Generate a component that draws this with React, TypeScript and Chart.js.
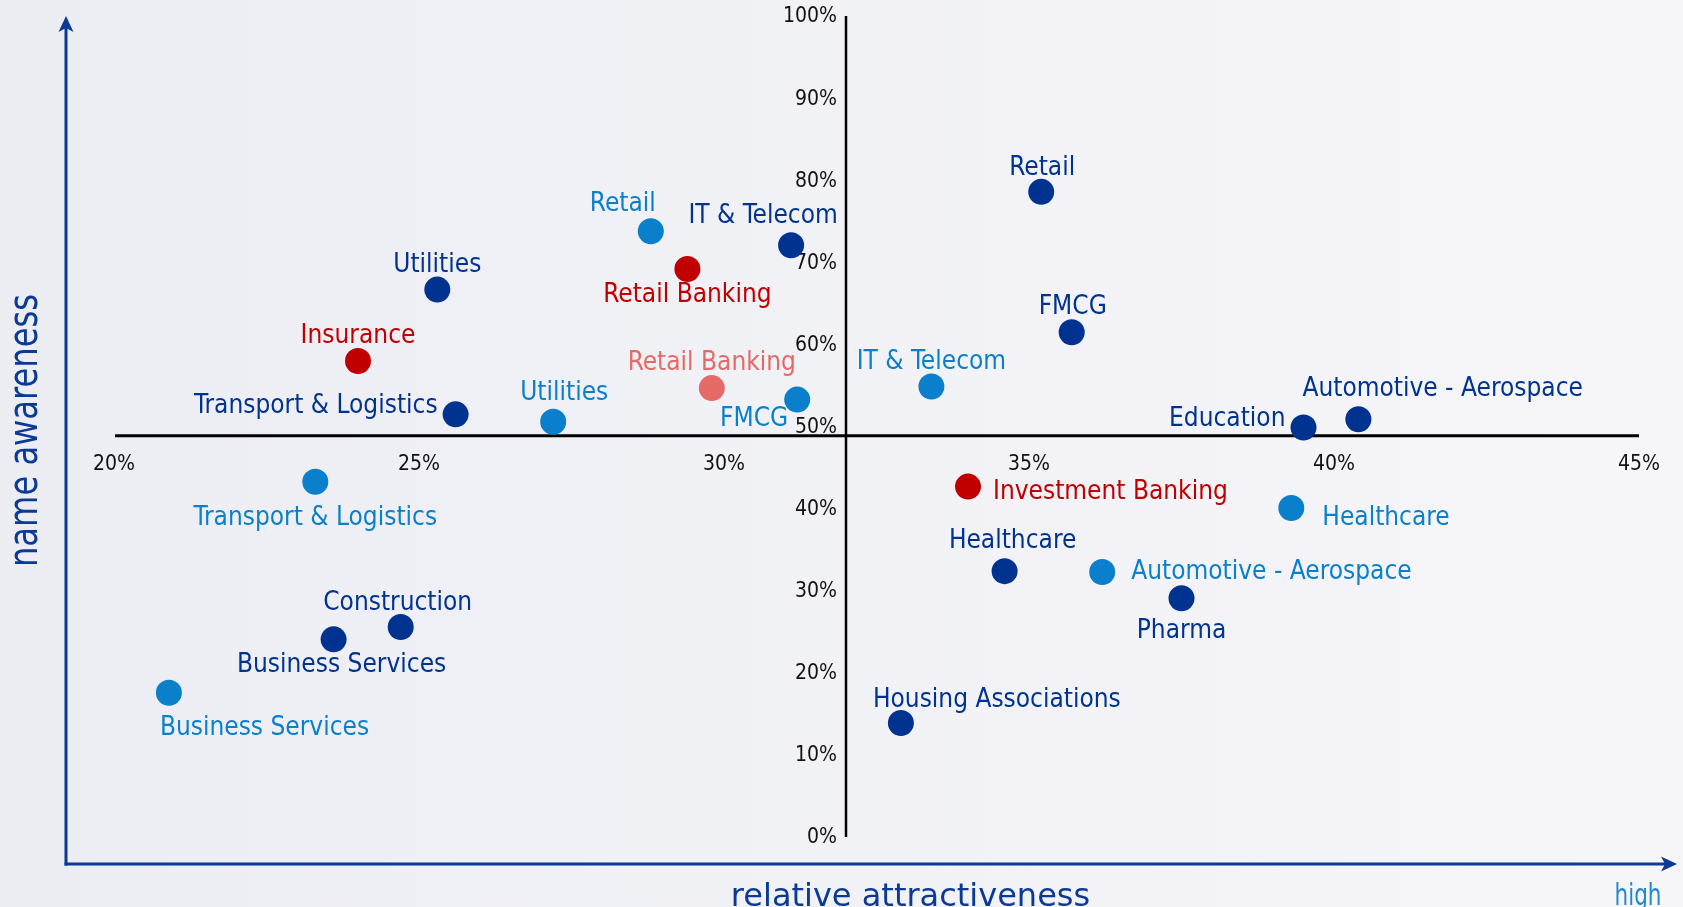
import React, { useEffect, useRef } from "react";
import { Chart, registerables } from "chart.js";

Chart.register(...registerables);

// ---------- data ----------
const X_TICKS = [20, 25, 30, 35, 40, 45];
const Y_TICKS = [0, 10, 20, 30, 40, 50, 60, 70, 80, 90, 100];
const X_CROSS = 32; // where the vertical axis crosses (relative attractiveness %)
const Y_CROSS = 49; // where the horizontal axis crosses (name awareness %)

const LIGHT_NAMES = ["Retail", "FMCG", "IT & Telecom", "Utilities", "Transport & Logistics", "Business Services", "Healthcare", "Automotive - Aerospace"];
const LIGHT_X = [28.8, 31.2, 33.4, 27.2, 23.3, 20.9, 39.3, 36.2];
const LIGHT_Y = [73.9, 53.4, 55.0, 50.7, 43.4, 17.7, 40.2, 32.4];

const DARK_NAMES = ["Retail", "IT & Telecom", "Utilities", "FMCG", "Transport & Logistics", "Education", "Automotive - Aerospace", "Construction", "Business Services", "Healthcare", "Pharma", "Housing Associations"];
const DARK_X = [35.2, 31.1, 25.3, 35.7, 25.6, 39.5, 40.4, 24.7, 23.6, 34.6, 37.5, 32.9];
const DARK_Y = [78.7, 72.2, 66.8, 61.6, 51.6, 50.0, 51.0, 25.7, 24.2, 32.5, 29.2, 14.0];

const RED_NAMES = ["Retail Banking", "Insurance", "Investment Banking"];
const RED_X = [29.4, 24.0, 34.0];
const RED_Y = [69.3, 58.1, 42.8];

const SALMON_NAMES = ["Retail Banking"];
const SALMON_X = [29.8];
const SALMON_Y = [54.8];

// ---------- label placement (align, dx, baseline dy) ----------
type Place = [CanvasTextAlign, number, number];
const LIGHT_PLACE: Place[] = [
  ["center", -28, -20], ["right", -9, 26], ["center", 0, -17], ["center", 11, -22],
  ["center", 0, 43], ["left", -9, 42], ["left", 31, 17], ["left", 29, 7],
];
const DARK_PLACE: Place[] = [
  ["center", 1, -17], ["center", -28, -22], ["center", 0, -18], ["center", 1, -18],
  ["right", -18, -1], ["right", -18, -2], ["left", -56, -23], ["center", -3, -17],
  ["center", 8, 33], ["center", 8, -23], ["center", 0, 40], ["left", -28, -16],
];
const RED_PLACE: Place[] = [["center", 0, 33], ["center", 0, -18], ["left", 25, 12]];
const SALMON_PLACE: Place[] = [["center", 0, -18]];

// ---------- styles ----------
const DARK = "#00338f";
const LIGHT = "#0a7fcb";
const RED = "#c00000";
const SALMON = "#e46a68";
const ARROW = "#0b3a96";
const LABEL_FONT = "26px 'DejaVu Sans Condensed', 'DejaVu Sans', sans-serif";
const TICK_FONT = "21px 'DejaVu Sans Condensed', 'DejaVu Sans', sans-serif";

const toPoints = (xs: number[], ys: number[]) => xs.map((x, i) => ({ x, y: ys[i] }));

const bgPlugin = {
  id: "bg",
  beforeDraw(chart: any) {
    const { ctx, width, height } = chart;
    const g = ctx.createLinearGradient(0, 0, width, 0);
    g.addColorStop(0, "#ecedf3");
    g.addColorStop(1, "#f6f6f9");
    ctx.save();
    ctx.fillStyle = g;
    ctx.fillRect(0, 0, width, height);
    ctx.restore();
  },
};

function arrowHead(ctx: CanvasRenderingContext2D, tipX: number, tipY: number, dir: "up" | "right") {
  ctx.beginPath();
  if (dir === "up") {
    ctx.moveTo(tipX, tipY);
    ctx.lineTo(tipX + 7.5, tipY + 16);
    ctx.lineTo(tipX, tipY + 12);
    ctx.lineTo(tipX - 7.5, tipY + 16);
  } else {
    ctx.moveTo(tipX, tipY);
    ctx.lineTo(tipX - 16, tipY - 7.5);
    ctx.lineTo(tipX - 12, tipY);
    ctx.lineTo(tipX - 16, tipY + 7.5);
  }
  ctx.closePath();
  ctx.fill();
}

const axesPlugin = {
  id: "crossAxes",
  beforeDatasetsDraw(chart: any) {
    const { ctx, scales, chartArea, width, height } = chart;
    const xs = scales.x;
    const ys = scales.y;
    const hy = ys.getPixelForValue(Y_CROSS);
    const vx = xs.getPixelForValue(X_CROSS);
    ctx.save();
    // outer arrows
    const ax = chartArea.left - 48;
    const ay = chartArea.bottom + 26;
    ctx.strokeStyle = ARROW;
    ctx.fillStyle = ARROW;
    ctx.lineWidth = 3;
    ctx.beginPath();
    ctx.moveTo(ax, ay + 1.5);
    ctx.lineTo(ax, 28);
    ctx.stroke();
    arrowHead(ctx, ax, 16, "up");
    ctx.beginPath();
    ctx.moveTo(ax - 1.5, ay);
    ctx.lineTo(width - 18, ay);
    ctx.stroke();
    arrowHead(ctx, width - 6, ay, "right");

    // crossing axes
    ctx.strokeStyle = "#000";
    ctx.lineWidth = 3;
    ctx.beginPath();
    ctx.moveTo(xs.getPixelForValue(X_TICKS[0]) + 1, hy);
    ctx.lineTo(xs.getPixelForValue(X_TICKS[X_TICKS.length - 1]), hy);
    ctx.stroke();
    ctx.lineWidth = 2.5;
    ctx.beginPath();
    ctx.moveTo(vx, ys.getPixelForValue(100) - 1);
    ctx.lineTo(vx, ys.getPixelForValue(0) - 1);
    ctx.stroke();

    // tick labels
    ctx.fillStyle = "#111";
    ctx.font = TICK_FONT;
    ctx.textBaseline = "middle";
    ctx.textAlign = "right";
    Y_TICKS.forEach((v) => ctx.fillText(v + "%", vx - 9, ys.getPixelForValue(v)));
    ctx.textAlign = "center";
    X_TICKS.forEach((v) => ctx.fillText(v + "%", xs.getPixelForValue(v), hy + 29));

    // axis titles
    ctx.fillStyle = ARROW;
    ctx.textBaseline = "alphabetic";
    ctx.font = "32px 'DejaVu Sans', sans-serif";
    ctx.textAlign = "center";
    ctx.fillText("relative attractiveness", (chartArea.left + chartArea.right) / 2 + 34, height - 1);

    ctx.save();
    ctx.translate(37, (chartArea.top + chartArea.bottom) / 2 + 3);
    ctx.rotate(-Math.PI / 2);
    ctx.font = "41px 'DejaVu Sans', sans-serif";
    const w = ctx.measureText("name awareness").width;
    ctx.scale(273 / w, 1);
    ctx.fillText("name awareness", 0, 0);
    ctx.restore();

    ctx.save();
    ctx.fillStyle = "#1e88d0";
    ctx.translate(1638, height - 2);
    ctx.font = "31px 'DejaVu Sans', sans-serif";
    const hw = ctx.measureText("high").width;
    ctx.scale(47 / hw, 1);
    ctx.fillText("high", 0, 0);
    ctx.restore();

    ctx.restore();
  },
};

const labelPlugin = {
  id: "pointLabels",
  afterDatasetsDraw(chart: any) {
    const { ctx } = chart;
    ctx.save();
    ctx.font = LABEL_FONT;
    ctx.textBaseline = "alphabetic";
    chart.data.datasets.forEach((ds: any, i: number) => {
      const meta = chart.getDatasetMeta(i);
      ctx.fillStyle = ds.labelColor;
      meta.data.forEach((el: any, j: number) => {
        const [align, dx, dy] = ds.labelPlace[j];
        ctx.textAlign = align;
        ctx.fillText(ds.names[j], el.x + dx, el.y + dy);
      });
    });
    ctx.restore();
  },
};

export default function App() {
  const ref = useRef<HTMLCanvasElement | null>(null);
  useEffect(() => {
    document.body.style.margin = "0";
    const canvas = ref.current!;
    const mk = (names: string[], xs: number[], ys: number[], color: string, place: Place[]) => ({
      data: toPoints(xs, ys),
      names,
      labelPlace: place,
      labelColor: color,
      backgroundColor: color,
      borderWidth: 0,
      pointRadius: 13,
      pointHoverRadius: 13,
      showLine: false,
      clip: false as any,
    });
    const chart = new Chart(canvas, {
      type: "scatter",
      data: {
        datasets: [
          mk(LIGHT_NAMES, LIGHT_X, LIGHT_Y, LIGHT, LIGHT_PLACE),
          mk(DARK_NAMES, DARK_X, DARK_Y, DARK, DARK_PLACE),
          mk(RED_NAMES, RED_X, RED_Y, RED, RED_PLACE),
          mk(SALMON_NAMES, SALMON_X, SALMON_Y, SALMON, SALMON_PLACE),
        ] as any,
      },
      options: {
        animation: false,
        responsive: false,
        devicePixelRatio: 1,
        events: [],
        layout: { padding: { left: 114, right: 44, top: 17, bottom: 69 } },
        plugins: { legend: { display: false }, tooltip: { enabled: false } },
        scales: {
          x: { type: "linear", min: 20, max: 45, display: false },
          y: { type: "linear", min: 0, max: 100, display: false },
        },
      },
      plugins: [bgPlugin, axesPlugin, labelPlugin],
    });
    return () => chart.destroy();
  }, []);
  return <canvas ref={ref} width={1683} height={907} style={{ display: "block", width: 1683, height: 907 }} />;
}
